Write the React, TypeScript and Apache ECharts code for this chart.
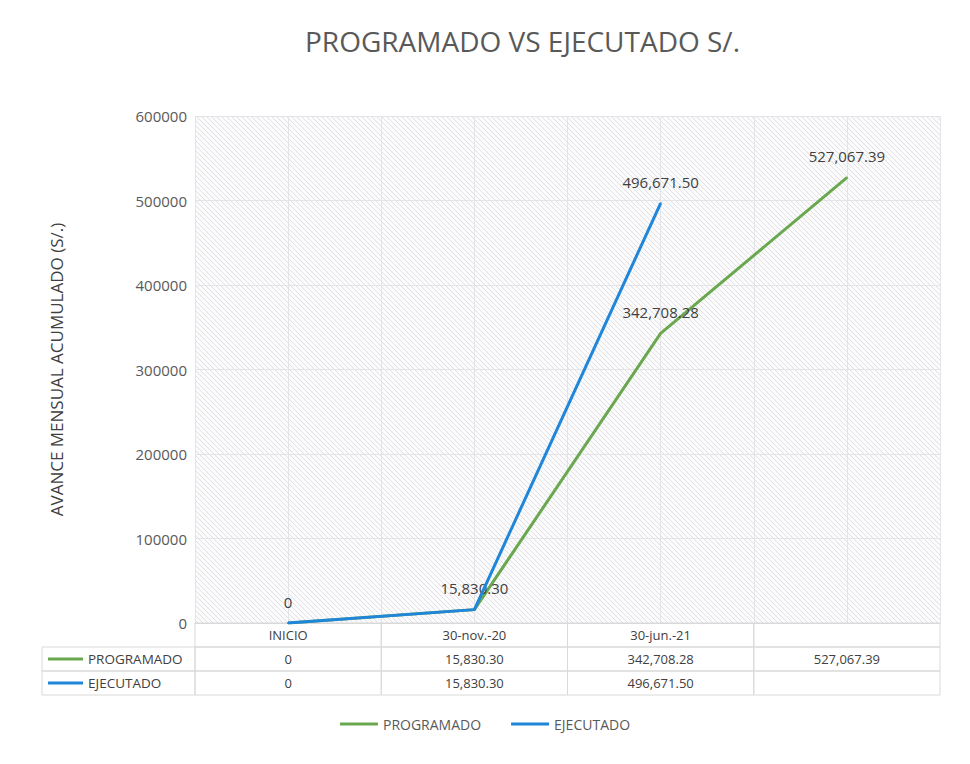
import React, { useEffect, useRef } from "react";
import * as echarts from "echarts";

const categories = ["INICIO", "30-nov.-20", "30-jun.-21", ""];
const programado = [0, 15830.3, 342708.28, 527067.39];
const ejecutado: (number | null)[] = [0, 15830.3, 496671.5, null];
const yTicks = [0, 100000, 200000, 300000, 400000, 500000, 600000];
const seriesNames = ["PROGRAMADO", "EJECUTADO"];

const GREEN = "#6aa84f";
const BLUE = "#1f86da";
const TEXT = "#404040";
const AXIS_TEXT = "#595959";
const FONT = "'Open Sans', 'Noto Sans', sans-serif";

const fmt = (v: number | null | undefined) =>
  v === null || v === undefined ? "\u00a0" : v === 0 ? "0" : v.toLocaleString("en-US", { minimumFractionDigits: 2, maximumFractionDigits: 2 });

export default function App() {
  const ref = useRef<HTMLDivElement>(null);
  useEffect(() => {
    document.body.style.margin = "0";
    if (!ref.current) return;
    const chart = echarts.init(ref.current, undefined, { renderer: "svg" });

    // hatch pattern
    const T = 5;
    const tile = document.createElement("canvas");
    tile.width = T;
    tile.height = T;
    const ctx = tile.getContext("2d")!;
    ctx.fillStyle = "#fbfbfc";
    ctx.fillRect(0, 0, T, T);
    ctx.strokeStyle = "#e0e0e6";
    ctx.lineWidth = 1;
    ctx.beginPath();
    for (let k = -T; k <= T; k += T) {
      ctx.moveTo(k - 1, -1);
      ctx.lineTo(k + T + 1, T + 1);
    }
    ctx.stroke();
    const hatch = tile.toDataURL();

    const GL = 195;
    const GR = 30;
    const GT = 116;
    const GB_Y = 623;
    const H = 764;
    const W = 970;
    const CW = (W - GL - GR) / categories.length;
    const RH = 24;
    const TL = 42;

    const cellStyle = (extra: any = {}) => ({
      width: CW,
      height: RH,
      lineHeight: RH,
      align: "center",
      verticalAlign: "middle",
      borderColor: "#d9d9d9",
      borderWidth: 1,
      fontSize: 13,
      fontFamily: FONT,
      color: TEXT,
      ...extra,
    });

    const rowY1 = GB_Y + RH;
    const rowY2 = GB_Y + 2 * RH;

    chart.setOption({
      animation: false,
      backgroundColor: "#ffffff",
      textStyle: { fontFamily: FONT },
      title: {
        text: "PROGRAMADO VS EJECUTADO S/.",
        left: 300,
        top: 22,
        textStyle: { fontSize: 28, fontWeight: "normal", color: AXIS_TEXT, fontFamily: FONT },
      },
      grid: {
        left: GL,
        right: GR,
        top: GT,
        bottom: H - GB_Y,
        show: true,
        borderWidth: 0,
        backgroundColor: { image: hatch, repeat: "repeat" },
      },
      legend: {
        data: seriesNames,
        top: 712,
        left: "center",
        icon: "rect",
        itemWidth: 38,
        itemHeight: 3,
        itemGap: 30,
        textStyle: { fontSize: 14, color: AXIS_TEXT, fontFamily: FONT },
      },
      xAxis: [
        {
          type: "category",
          data: categories,
          boundaryGap: true,
          axisLine: { show: true, lineStyle: { color: "#d9d9d9" } },
          axisTick: { show: false },
          splitLine: { show: true, lineStyle: { color: "#e4e4e8" } },
          axisLabel: {
            interval: 0,
            margin: 0,
            formatter: (val: string, idx: number) =>
              `{h|${val || "\u00a0"}}\n{c|${fmt(programado[idx])}}\n{c|${fmt(ejecutado[idx])}}`,
            rich: { h: cellStyle(), c: cellStyle() },
          },
        },
        {
          type: "category",
          data: ["a", "b", "c", "d", "e", "f", "g", "h"],
          boundaryGap: true,
          position: "bottom",
          axisLine: { show: false },
          axisTick: { show: false },
          axisLabel: { show: false },
          splitLine: { show: true, lineStyle: { color: "#e4e4e8" } },
        },
      ],
      yAxis: {
        type: "value",
        min: yTicks[0],
        max: yTicks[yTicks.length - 1],
        interval: yTicks[1] - yTicks[0],
        name: "AVANCE MENSUAL ACUMULADO (S/.)",
        nameLocation: "middle",
        nameGap: 130,
        nameTextStyle: { fontSize: 17, color: TEXT, fontFamily: FONT },
        axisLine: { show: false },
        axisTick: { show: false },
        axisLabel: { fontSize: 15, color: AXIS_TEXT, margin: 8, formatter: (v: number) => String(v) },
        splitLine: { show: true, lineStyle: { color: "#e4e4e8" } },
      },
      series: [
        {
          name: seriesNames[0],
          type: "line",
          xAxisIndex: 0,
          data: programado,
          symbol: "circle",
          symbolSize: 2,
          showSymbol: true,
          lineStyle: { color: GREEN, width: 3 },
          itemStyle: { color: GREEN },
          label: {
            show: true,
            position: "top",
            distance: 13,
            fontSize: 15,
            color: TEXT,
            fontFamily: FONT,
            formatter: (p: any) => fmt(p.value),
          },
          z: 2,
        },
        {
          name: seriesNames[1],
          type: "line",
          xAxisIndex: 0,
          data: ejecutado.map((v, i) => ({
            value: v,
            label: { show: v !== null && v !== programado[i] },
          })),
          symbol: "circle",
          symbolSize: 2,
          showSymbol: true,
          lineStyle: { color: BLUE, width: 3 },
          itemStyle: { color: BLUE },
          label: {
            position: "top",
            distance: 13,
            fontSize: 15,
            color: TEXT,
            fontFamily: FONT,
            formatter: (p: any) => fmt(p.value),
          },
          z: 3,
        },
      ],
      graphic: [
        {
          type: "group",
          silent: true,
          children: [
            { type: "rect", shape: { x: TL, y: rowY1, width: GL - TL, height: RH }, style: { fill: "none", stroke: "#d9d9d9", lineWidth: 1 } },
            { type: "rect", shape: { x: TL, y: rowY2, width: GL - TL, height: RH }, style: { fill: "none", stroke: "#d9d9d9", lineWidth: 1 } },
            { type: "line", shape: { x1: TL + 6, y1: rowY1 + RH / 2, x2: TL + 41, y2: rowY1 + RH / 2 }, style: { stroke: GREEN, lineWidth: 3 } },
            { type: "line", shape: { x1: TL + 6, y1: rowY2 + RH / 2, x2: TL + 41, y2: rowY2 + RH / 2 }, style: { stroke: BLUE, lineWidth: 3 } },
            { type: "text", x: TL + 46, y: rowY1 + RH / 2, style: { text: seriesNames[0], fontSize: 13.5, fill: TEXT, fontFamily: FONT, verticalAlign: "middle", align: "left" } },
            { type: "text", x: TL + 46, y: rowY2 + RH / 2, style: { text: seriesNames[1], fontSize: 13.5, fill: TEXT, fontFamily: FONT, verticalAlign: "middle", align: "left" } },
          ],
        },
      ],
    });
    return () => chart.dispose();
  }, []);
  return <div ref={ref} style={{ width: 970, height: 764 }} />;
}
